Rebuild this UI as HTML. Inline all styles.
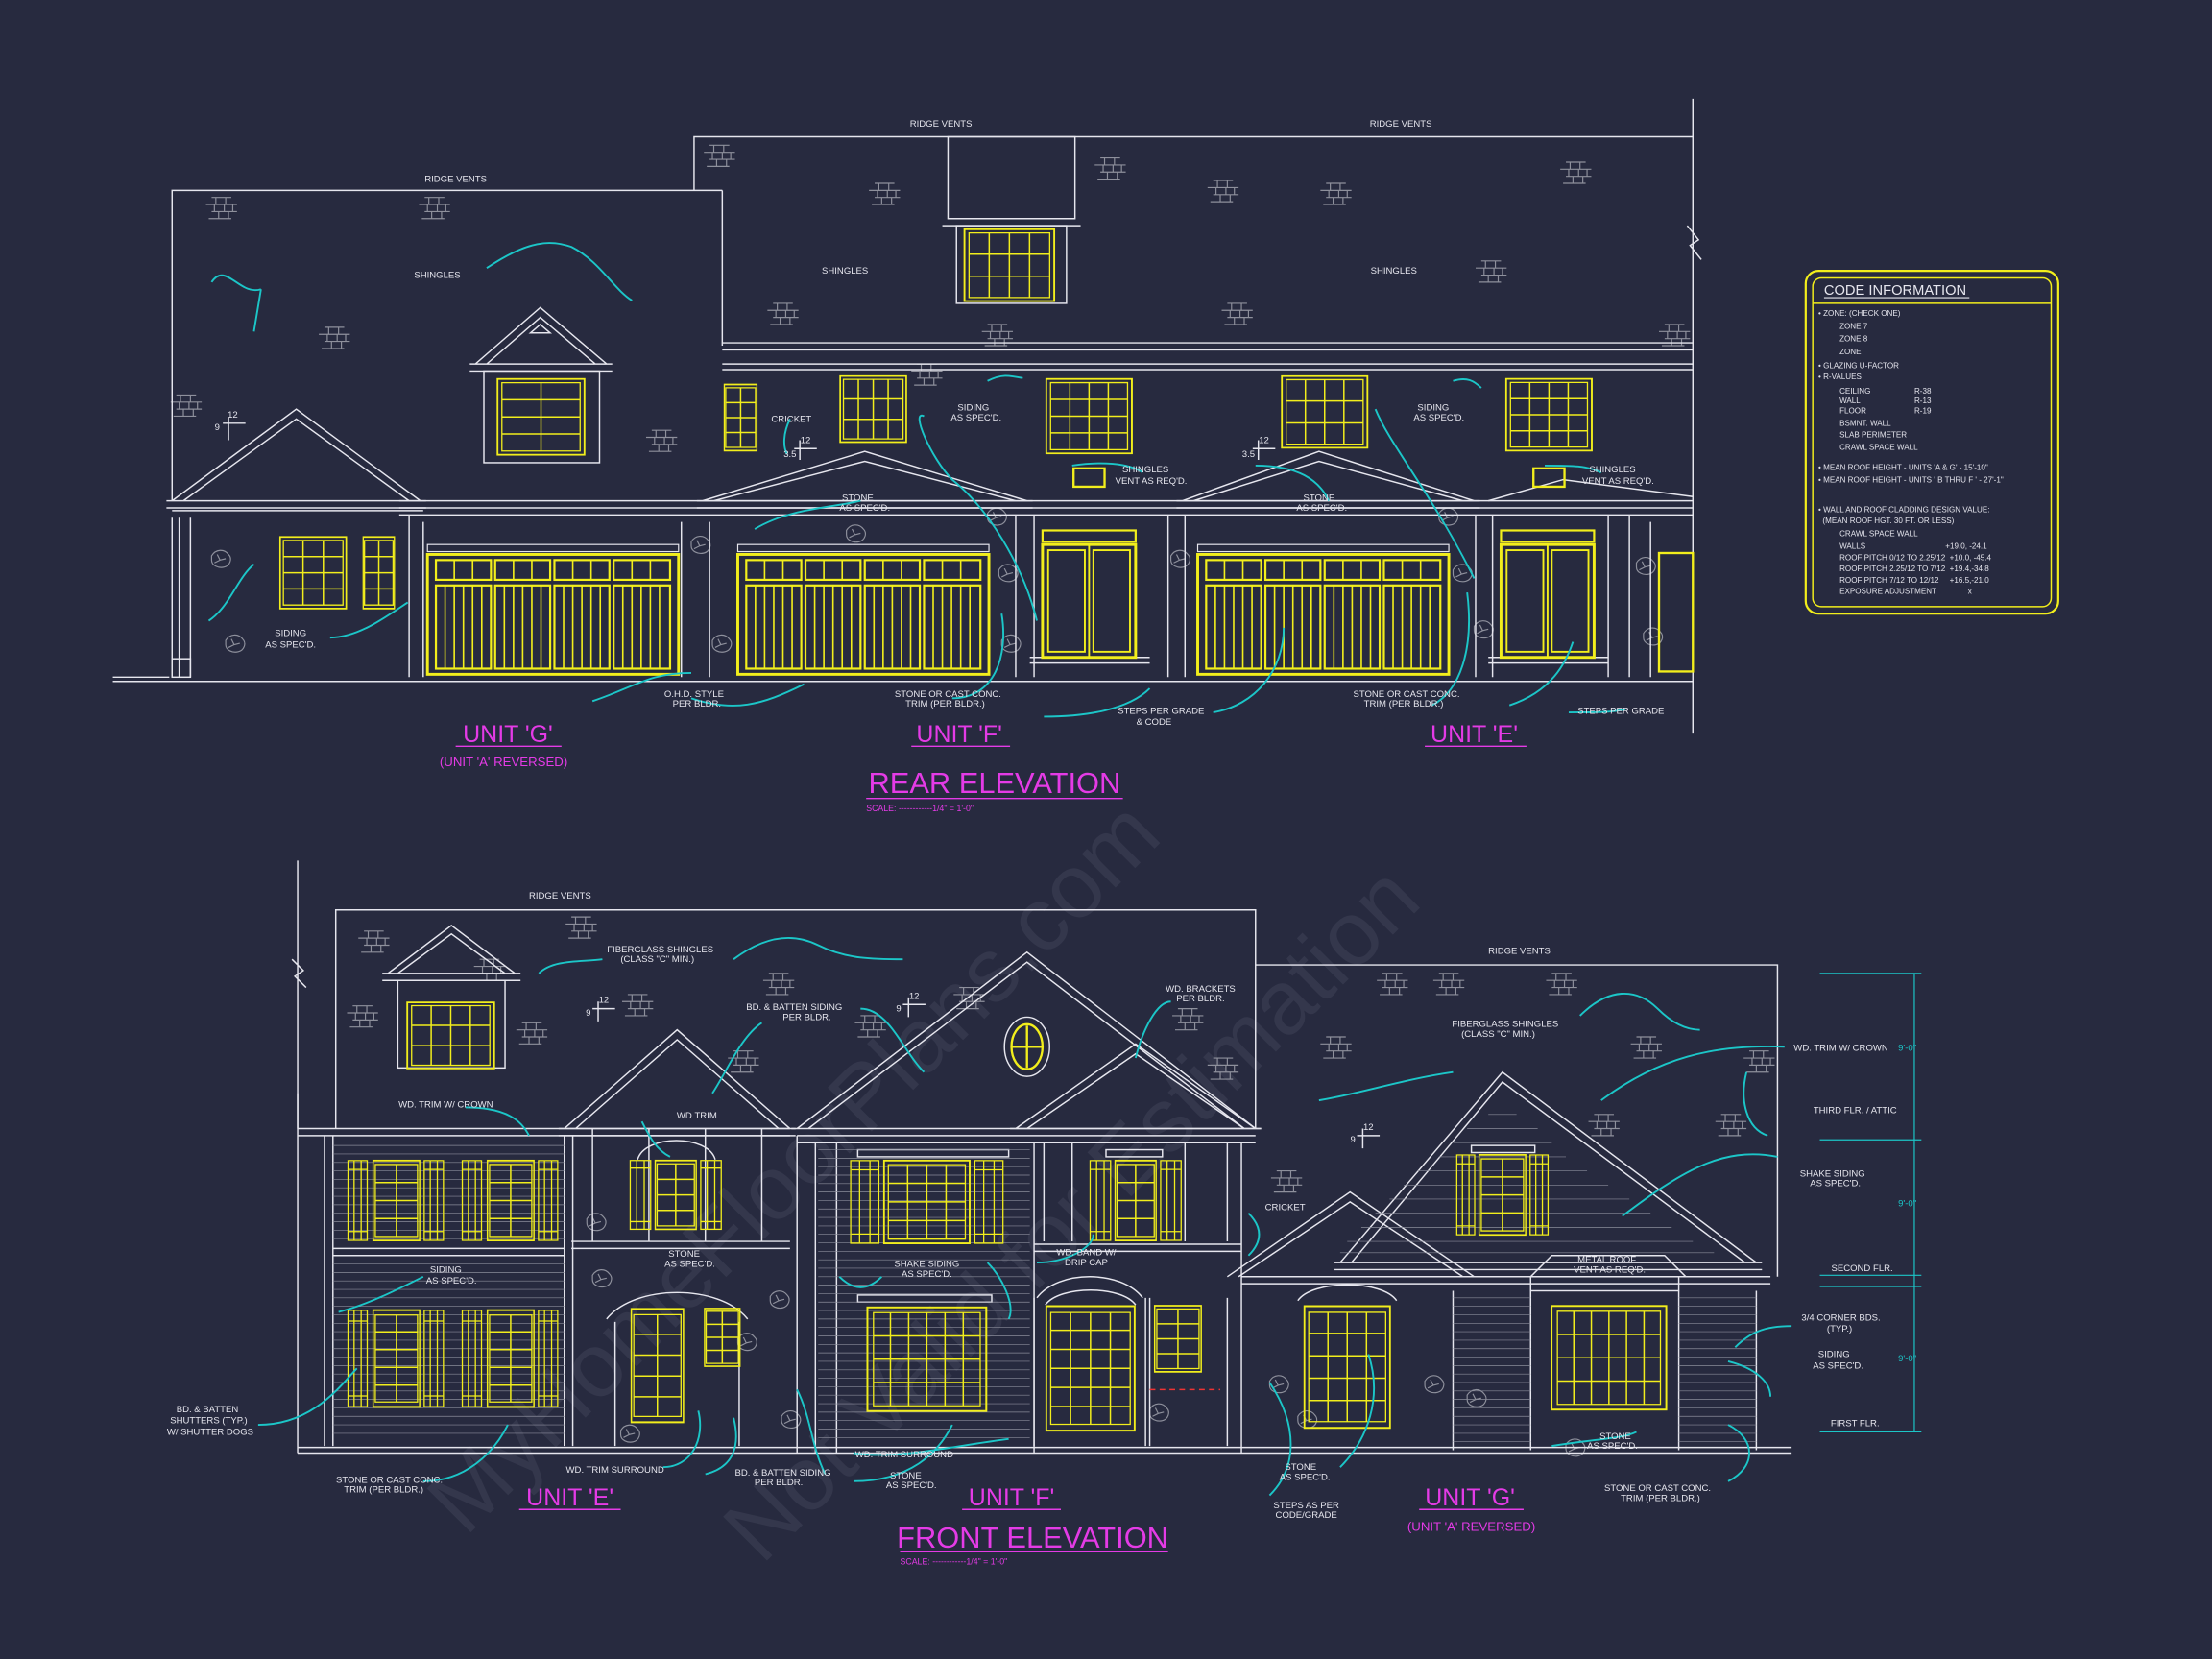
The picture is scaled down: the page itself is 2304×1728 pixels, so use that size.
<!DOCTYPE html>
<html><head><meta charset="utf-8">
<style>
html,body{margin:0;padding:0;background:#272a3f;}
svg{display:block}
text{font-family:"Liberation Sans",sans-serif;}
.t{font-size:6.5px;fill:#e6e6ee;text-anchor:middle}
.s{font-size:5.5px;fill:#e6e6ee}
.m{fill:#e43be6;text-anchor:middle}
.y{fill:none;stroke:#f2ee1c;stroke-width:1.6}
.c{fill:none;stroke:#1cc6c8;stroke-width:1.3}
.ns{vector-effect:non-scaling-stroke}
</style></head>
<body>
<svg width="2304" height="1728" viewBox="0 0 1568 1176" xmlns="http://www.w3.org/2000/svg">
<rect width="1568" height="1176" fill="#272a3f"/>
<defs>
<g id="brick" fill="none" stroke="#8e909c" stroke-width="0.8"><path d="M0,0h14M-4,5h22M0,10h18M-2,15h16M3,0v5M10,0v5M2,5v5M9,5v5M15,5v5M5,10v5M12,10v5"/></g>
<g id="stone" fill="none" stroke="#8e909c" stroke-width="0.8"><path d="M0,4c3,-5 9,-5 12,-1c3,3 1,8 -3,9c-4,1 -9,-1 -9,-5zM4,3l2,4l4,-1M2,9l4,-2"/></g>
<symbol id="w2x4" viewBox="0 0 100 100" preserveAspectRatio="none"><g fill="none" stroke="#f2ee1c" vector-effect="non-scaling-stroke"><rect x="1" y="1" width="98" height="98" stroke-width="2" vector-effect="non-scaling-stroke"/><rect x="6" y="6" width="88" height="88" stroke-width="1.3" vector-effect="non-scaling-stroke"/><path stroke-width="1.5" vector-effect="non-scaling-stroke" d="M50,6V94M6,28H94M6,50H94M6,72H94"/></g></symbol>
<symbol id="w2x5" viewBox="0 0 100 100" preserveAspectRatio="none"><g fill="none" stroke="#f2ee1c"><rect x="1" y="1" width="98" height="98" stroke-width="2" vector-effect="non-scaling-stroke"/><rect x="6" y="6" width="88" height="88" stroke-width="1.3" vector-effect="non-scaling-stroke"/><path stroke-width="1.5" vector-effect="non-scaling-stroke" d="M50,6V94M6,23H94M6,41H94M6,59H94M6,77H94"/></g></symbol>
<symbol id="w3x4" viewBox="0 0 100 100" preserveAspectRatio="none"><g fill="none" stroke="#f2ee1c"><rect x="1" y="1" width="98" height="98" stroke-width="2" vector-effect="non-scaling-stroke"/><rect x="6" y="6" width="88" height="88" stroke-width="1.3" vector-effect="non-scaling-stroke"/><path stroke-width="1.5" vector-effect="non-scaling-stroke" d="M35,6V94M65,6V94M6,28H94M6,50H94M6,72H94"/></g></symbol>
<symbol id="w4x3" viewBox="0 0 100 100" preserveAspectRatio="none"><g fill="none" stroke="#f2ee1c"><rect x="1" y="1" width="98" height="98" stroke-width="2" vector-effect="non-scaling-stroke"/><rect x="6" y="6" width="88" height="88" stroke-width="1.3" vector-effect="non-scaling-stroke"/><path stroke-width="1.5" vector-effect="non-scaling-stroke" d="M28,6V94M50,6V94M72,6V94M6,35H94M6,65H94"/></g></symbol>
<symbol id="w4x4" viewBox="0 0 100 100" preserveAspectRatio="none"><g fill="none" stroke="#f2ee1c"><rect x="1" y="1" width="98" height="98" stroke-width="2" vector-effect="non-scaling-stroke"/><rect x="6" y="6" width="88" height="88" stroke-width="1.3" vector-effect="non-scaling-stroke"/><path stroke-width="1.5" vector-effect="non-scaling-stroke" d="M28,6V94M50,6V94M72,6V94M6,28H94M6,50H94M6,72H94"/></g></symbol>
<symbol id="w4x5" viewBox="0 0 100 100" preserveAspectRatio="none"><g fill="none" stroke="#f2ee1c"><rect x="1" y="1" width="98" height="98" stroke-width="2" vector-effect="non-scaling-stroke"/><rect x="6" y="6" width="88" height="88" stroke-width="1.3" vector-effect="non-scaling-stroke"/><path stroke-width="1.5" vector-effect="non-scaling-stroke" d="M28,6V94M50,6V94M72,6V94M6,23H94M6,41H94M6,59H94M6,77H94"/></g></symbol>
<symbol id="w4x6" viewBox="0 0 100 100" preserveAspectRatio="none"><g fill="none" stroke="#f2ee1c"><rect x="1" y="1" width="98" height="98" stroke-width="2" vector-effect="non-scaling-stroke"/><rect x="6" y="6" width="88" height="88" stroke-width="1.3" vector-effect="non-scaling-stroke"/><path stroke-width="1.5" vector-effect="non-scaling-stroke" d="M28,6V94M50,6V94M72,6V94M6,20H94M6,35H94M6,50H94M6,65H94M6,80H94"/></g></symbol>
<symbol id="w6x4" viewBox="0 0 100 100" preserveAspectRatio="none"><g fill="none" stroke="#f2ee1c"><rect x="1" y="1" width="98" height="98" stroke-width="2" vector-effect="non-scaling-stroke"/><rect x="6" y="6" width="88" height="88" stroke-width="1.3" vector-effect="non-scaling-stroke"/><path stroke-width="1.5" vector-effect="non-scaling-stroke" d="M20,6V94M35,6V94M50,6V94M65,6V94M80,6V94M6,28H94M6,50H94M6,72H94"/></g></symbol>
<symbol id="sh" viewBox="0 0 15 58" preserveAspectRatio="none"><g fill="none" stroke="#f2ee1c" stroke-width="1.3" vector-effect="non-scaling-stroke"><rect x="0.7" y="0.7" width="13.6" height="56.6" vector-effect="non-scaling-stroke"/><path vector-effect="non-scaling-stroke" d="M5,1V57M10,1V57M1,7H14M1,51H14"/></g></symbol>
<g id="gar" fill="none" stroke="#f2ee1c">
<rect x="0" y="0" width="178" height="85" stroke-width="2"/>
<rect x="0" y="-7" width="178" height="5" stroke="#e6e6ee" stroke-width="0.8"/>
<g stroke-width="1.5"><rect x="6" y="4" width="39" height="14"/><rect x="48" y="4" width="39" height="14"/><rect x="90" y="4" width="39" height="14"/><rect x="132" y="4" width="40" height="14"/>
<rect x="6" y="22" width="39" height="59"/><rect x="48" y="22" width="39" height="59"/><rect x="90" y="22" width="39" height="59"/><rect x="132" y="22" width="40" height="59"/></g>
<path stroke-width="1.1" d="M19,4v14M32,4v14M61,4v14M74,4v14M103,4v14M116,4v14M145,4v14M158,4v14M12.5,22v59M19,22v59M25.5,22v59M32,22v59M38.5,22v59M54.5,22v59M61,22v59M67.5,22v59M74,22v59M80.5,22v59M96.5,22v59M103,22v59M109.5,22v59M116,22v59M122.5,22v59M138.5,22v59M145,22v59M151.5,22v59M158,22v59M164.5,22v59"/>
</g>
<g id="fd" fill="none" stroke="#f2ee1c">
<rect x="0" y="0" width="66" height="8" stroke-width="1.5"/><rect x="0" y="10" width="66" height="80" stroke-width="2"/>
<rect x="4" y="14" width="26" height="72" stroke-width="1.3"/><rect x="36" y="14" width="26" height="72" stroke-width="1.3"/><path d="M33,10v80" stroke-width="1.3"/>
</g>
</defs>

<!-- watermark -->
<g fill="#34374c" font-size="64" font-family="Liberation Serif,serif">
<text transform="translate(330,1090) rotate(-45)">MyHomeFloorPlans.com</text>
<text transform="translate(540,1110) rotate(-45)">Not Valid for Estimation</text>
</g>

<!-- bricks -->
<g>
<use href="#brick" x="301" y="140"/><use href="#brick" x="230" y="232"/><use href="#brick" x="462" y="305"/><use href="#brick" x="503" y="103"/><use href="#brick" x="620" y="130"/><use href="#brick" x="780" y="112"/><use href="#brick" x="548" y="215"/><use href="#brick" x="700" y="230"/><use href="#brick" x="860" y="128"/><use href="#brick" x="940" y="130"/><use href="#brick" x="1050" y="185"/><use href="#brick" x="1110" y="115"/><use href="#brick" x="870" y="215"/><use href="#brick" x="650" y="258"/><use href="#brick" x="1180" y="230"/><use href="#brick" x="125" y="280"/><use href="#brick" x="150" y="140"/>
<use href="#brick" x="258" y="660"/><use href="#brick" x="340" y="680"/><use href="#brick" x="405" y="650"/><use href="#brick" x="445" y="705"/><use href="#brick" x="250" y="713"/><use href="#brick" x="370" y="725"/><use href="#brick" x="520" y="745"/><use href="#brick" x="610" y="720"/><use href="#brick" x="680" y="700"/><use href="#brick" x="545" y="690"/><use href="#brick" x="835" y="715"/><use href="#brick" x="860" y="750"/><use href="#brick" x="940" y="735"/><use href="#brick" x="980" y="690"/><use href="#brick" x="1020" y="690"/><use href="#brick" x="1100" y="690"/><use href="#brick" x="1160" y="735"/><use href="#brick" x="1220" y="790"/><use href="#brick" x="1240" y="745"/><use href="#brick" x="905" y="830"/><use href="#brick" x="1130" y="790"/>
</g>
<g>
<use href="#stone" x="150" y="390"/><use href="#stone" x="160" y="450"/><use href="#stone" x="490" y="380"/><use href="#stone" x="505" y="450"/><use href="#stone" x="600" y="372"/><use href="#stone" x="700" y="360"/><use href="#stone" x="708" y="400"/><use href="#stone" x="710" y="450"/><use href="#stone" x="830" y="390"/><use href="#stone" x="1020" y="360"/><use href="#stone" x="1030" y="400"/><use href="#stone" x="1045" y="440"/><use href="#stone" x="1160" y="395"/><use href="#stone" x="1165" y="445"/>
<use href="#stone" x="416" y="860"/><use href="#stone" x="546" y="915"/><use href="#stone" x="554" y="1000"/><use href="#stone" x="523" y="945"/><use href="#stone" x="420" y="900"/><use href="#stone" x="440" y="1010"/><use href="#stone" x="815" y="995"/><use href="#stone" x="900" y="975"/><use href="#stone" x="1010" y="975"/><use href="#stone" x="1040" y="985"/><use href="#stone" x="1110" y="1020"/><use href="#stone" x="920" y="1000"/>
</g>

<!-- ============ REAR ============ -->
<g fill="none" stroke="#e6e6ee" stroke-width="1">
<path d="M122,355V135H512M492,135V97H1200M1200,70V520M1196,160l8,10l-6,4l8,10"/>
<path d="M512,135V245M512,243H1200M512,248H1200M512,258H1200M512,262H1200M80,483H1200M80,480H120"/>
<!-- left gable -->
<path d="M122,355L210,290L298,355M130,355L210,297L290,355M118,355H302M118,360H302"/>
<path d="M122,362H300M122,367V480M135,367V480M127,367V480"/><rect x="122" y="467" width="13" height="13"/>
<!-- dormer -->
<path d="M337,258L383,218L430,258M345,258L383,225L422,258M333,258H434M333,263H434M376,236l7,-6l7,6z"/>
<rect x="343" y="263" width="82" height="65"/>
<rect x="672" y="97" width="90" height="58"/><path d="M672,155H762M668,160H766"/><rect x="678" y="160" width="78" height="55"/>
<path d="M283,355H1200M283,360H1200M283,365H1200"/>
<path d="M290,365V480M300,370V480M483,370V480M503,370V480M720,365V480M733,365V480M828,365V480M840,365V480M1046,365V480M1058,365V480M1140,365V480M1155,365V480M1170,370V480"/>
<path d="M498,355L613,320L728,355M506,355L613,327L720,355M494,355H732M494,360H732"/>
<path d="M838,355L935,320L1045,355M846,355L935,327L1037,355M834,355H1049M834,360H1049"/>
<path d="M1055,355L1108,340L1200,352"/>
<path d="M730,466H815M730,470H815M1055,466H1140M1055,470H1140"/>
<path d="M158,300h16M162,296v16M563,318h16M567,312v14M888,318h16M892,312v14"/>
</g>
<use href="#w2x4" x="352" y="268" width="63" height="55"/>
<use href="#w4x3" x="683" y="162" width="65" height="52"/>
<use href="#w2x4" x="513" y="272" width="24" height="48"/>
<use href="#w4x3" x="595" y="266" width="48" height="48"/>
<use href="#w4x4" x="741" y="268" width="62" height="54"/>
<use href="#w4x3" x="908" y="266" width="62" height="52"/>
<use href="#w4x4" x="1067" y="268" width="62" height="52"/>
<rect class="y" x="761" y="332" width="22" height="13"/><rect class="y" x="1087" y="332" width="22" height="13"/>
<use href="#w3x4" x="198" y="380" width="48" height="52"/>
<use href="#w2x4" x="257" y="380" width="23" height="52"/>
<use href="#gar" x="303" y="393"/><use href="#gar" x="523" y="393"/><use href="#gar" x="849" y="393"/>
<use href="#fd" x="739" y="376"/><use href="#fd" x="1064" y="376"/>
<rect class="y" x="1176" y="392" width="24" height="84"/>

<g class="c">
<path d="M150,200c10,-15 20,10 35,5M185,205l-5,30M345,190c30,-20 45,-20 60,-15c20,10 30,30 43,38"/>
<path d="M148,440c15,-10 20,-30 32,-40M234,452c20,0 40,-15 55,-25M420,497c30,-10 40,-20 70,-20M490,495c30,10 50,5 80,-10"/>
<path d="M700,270c10,-5 15,-4 25,-2M655,295c-10,-5 5,30 20,45c25,20 50,60 60,100M560,297c-5,10 -5,20 -2,25M610,355c-20,5 -50,5 -75,20"/>
<path d="M760,330c20,-3 40,-2 50,5M1095,330c20,0 30,0 40,5M1030,270c10,-3 15,0 20,5M975,290c10,25 40,60 70,120M890,330c30,0 45,10 52,25"/>
<path d="M675,495c30,0 40,-30 35,-60M740,508c30,0 60,-5 75,-20M860,505c30,-5 50,-30 50,-60M1070,500c30,-10 40,-30 45,-45M1015,500c20,-10 30,-40 25,-80M1112,505c20,0 30,0 40,-2"/>
</g>

<g class="t">
<text x="154" y="305">9</text><text x="165" y="296">12</text><text x="560" y="324">3.5</text><text x="571" y="314">12</text><text x="885" y="324">3.5</text><text x="896" y="314">12</text>
<text x="323" y="129">RIDGE VENTS</text><text x="667" y="90">RIDGE VENTS</text><text x="993" y="90">RIDGE VENTS</text>
<text x="310" y="197">SHINGLES</text><text x="599" y="194">SHINGLES</text><text x="988" y="194">SHINGLES</text>
<text x="561" y="299">CRICKET</text><text x="690" y="291">SIDING</text><text x="692" y="298">AS SPEC'D.</text>
<text x="1016" y="291">SIDING</text><text x="1020" y="298">AS SPEC'D.</text>
<text x="608" y="355">STONE</text><text x="613" y="362">AS SPEC'D.</text><text x="935" y="355">STONE</text><text x="937" y="362">AS SPEC'D.</text>
<text x="812" y="335">SHINGLES</text><text x="816" y="343">VENT AS REQ'D.</text><text x="1143" y="335">SHINGLES</text><text x="1147" y="343">VENT AS REQ'D.</text>
<text x="206" y="451">SIDING</text><text x="206" y="459">AS SPEC'D.</text><text x="492" y="494">O.H.D. STYLE</text><text x="494" y="501">PER BLDR.</text>
<text x="672" y="494">STONE OR CAST CONC.</text><text x="670" y="501">TRIM (PER BLDR.)</text><text x="823" y="506">STEPS PER GRADE</text><text x="818" y="514">&amp; CODE</text>
<text x="997" y="494">STONE OR CAST CONC.</text><text x="995" y="501">TRIM (PER BLDR.)</text><text x="1149" y="506">STEPS PER GRADE</text>
</g>

<g class="m">
<text x="360" y="526" font-size="17">UNIT 'G'</text><text x="357" y="543" font-size="9">(UNIT 'A' REVERSED)</text>
<text x="680" y="526" font-size="17">UNIT 'F'</text><text x="1045" y="526" font-size="17">UNIT 'E'</text>
<text x="705" y="562" font-size="21">REAR ELEVATION</text>
<text x="614" y="575" font-size="6" text-anchor="start">SCALE: ------------1/4" = 1'-0"</text>
<text x="732" y="1097" font-size="21">FRONT ELEVATION</text>
<text x="638" y="1109" font-size="6" text-anchor="start">SCALE: ------------1/4" = 1'-0"</text>
<text x="404" y="1067" font-size="17">UNIT 'E'</text><text x="717" y="1067" font-size="17">UNIT 'F'</text><text x="1042" y="1067" font-size="17">UNIT 'G'</text>
<text x="1043" y="1085" font-size="9">(UNIT 'A' REVERSED)</text>
</g>
<path fill="none" stroke="#e43be6" d="M323,529h75M646,529h70M1010,529h72M614,566h182M638,1100h190M368,1070h72M682,1070h70M1006,1070h74"/>

<!-- code box -->
<rect x="1280" y="192" width="179" height="243" rx="9" fill="none" stroke="#f2ee1c" stroke-width="1.5"/>
<rect x="1285" y="197" width="169" height="233" rx="6" fill="none" stroke="#f2ee1c"/>
<path d="M1285,215H1454" stroke="#f2ee1c"/>
<text x="1293" y="209" font-size="10" fill="#e6e6ee">CODE INFORMATION</text><path d="M1293,211h103" stroke="#e6e6ee" stroke-width="0.8"/>
<g class="s">
<text x="1289" y="224">• ZONE: (CHECK ONE)</text><text x="1304" y="233">ZONE 7</text><text x="1304" y="242">ZONE 8</text><text x="1304" y="251">ZONE</text>
<text x="1289" y="261">• GLAZING U-FACTOR</text><text x="1289" y="269">• R-VALUES</text>
<text x="1304" y="279">CEILING</text><text x="1304" y="286">WALL</text><text x="1304" y="293">FLOOR</text><text x="1304" y="302">BSMNT. WALL</text><text x="1304" y="310">SLAB PERIMETER</text><text x="1304" y="319">CRAWL SPACE WALL</text>
<text x="1357" y="279">R-38</text><text x="1357" y="286">R-13</text><text x="1357" y="293">R-19</text>
<text x="1289" y="333">• MEAN ROOF HEIGHT - UNITS 'A &amp; G'  - 15'-10"</text>
<text x="1289" y="342">• MEAN ROOF HEIGHT - UNITS ' B THRU F '  - 27'-1"</text>
<text x="1289" y="363">• WALL AND ROOF CLADDING DESIGN VALUE:</text><text x="1292" y="371">(MEAN ROOF HGT. 30 FT. OR LESS)</text>
<text x="1304" y="380">CRAWL SPACE WALL</text><text x="1304" y="389">WALLS</text><text x="1304" y="397">ROOF PITCH 0/12 TO 2.25/12</text><text x="1304" y="405">ROOF PITCH 2.25/12 TO 7/12</text><text x="1304" y="413">ROOF PITCH 7/12 TO 12/12</text><text x="1304" y="421">EXPOSURE ADJUSTMENT</text>
<text x="1379" y="389">+19.0, -24.1</text><text x="1382" y="397">+10.0, -45.4</text><text x="1382" y="405">+19.4,-34.8</text><text x="1382" y="413">+16.5,-21.0</text><text x="1395" y="421">x</text>
</g>

<!-- ============ FRONT ============ -->
<g fill="none" stroke="#e6e6ee" stroke-width="1">
<path d="M211,610V1030M207,680l8,8l-6,4l8,8M238,800V645H890V800M890,684H1260V905M211,1030H1270M211,1026H1270"/>
<path d="M275,690L320,656L365,690M282,690L320,662L358,690M271,690H369M271,695H369"/><rect x="282" y="695" width="76" height="62"/>
<path d="M211,775V800M211,800H560M211,805H560M230,805V1025M236,805V1025M400,805V1025M406,805V1025M236,885H400M236,890H400"/>
<path d="M400,800L480,730L560,800M408,800L480,737L552,800M396,800H564M396,805H564M460,800V880M500,800V880M420,800V880M540,800V880M405,880H560M405,885H560"/>
<path d="M565,800L728,675L890,800M573,800L728,682L882,800M561,800H894"/>
<path d="M720,800L805,740L890,800M728,800L805,747L882,800M716,800H894"/>
<path d="M565,805H890M565,810H890M565,805V1030M578,810V1030M593,810V1030M733,810V1030"/>
<path d="M740,810V880M760,810V880M840,810V880M870,810V880M733,882H880M733,887H880M880,810V1030"/>
<path d="M950,895L1065,760L1245,895M958,895L1065,767L1237,895M946,895H1249M946,900H1249"/>
<path d="M870,905L957,845L1045,905M878,905L957,852L1037,905"/>
<path d="M880,910H1255M880,905H1255M1030,915V1028M1085,915V1028M1190,915V1028M1245,915V1028"/>
<rect x="1085" y="905" width="105" height="10"/><path d="M1100,890H1180L1195,905H1085z"/>
<path d="M452,822c5,-18 50,-18 55,0M430,935c20,-25 80,-25 100,0M436,937V1025M524,937V1025M920,922c10,-15 60,-15 70,0"/>
<path d="M741,925c10,-14 54,-14 64,0M735,920c15,-20 60,-20 75,0M733,920V1025M812,920V1025M815,920V1025M870,920V1025"/>
<rect x="608" y="815" width="107" height="5"/><rect x="784" y="815" width="40" height="5"/><rect x="608" y="918" width="95" height="5"/><rect x="1043" y="812" width="45" height="5"/>
<ellipse cx="728" cy="742" rx="16" ry="21"/>
<path d="M420,715h16M424,710v14M962,805h16M966,800v14M640,712h16M644,707v14"/>
</g>
<g fill="none" stroke="#8a8c9a" stroke-width="0.45">
<path d="M236,812H400M236,818H400M236,824H400M236,830H400M236,836H400M236,842H400M236,848H400M236,854H400M236,860H400M236,866H400M236,872H400M236,878H400M236,896H400M236,902H400M236,908H400M236,914H400M236,920H400M236,926H400M236,932H400M236,938H400M236,944H400M236,950H400M236,956H400M236,962H400M236,968H400M236,974H400M236,980H400M236,986H400M236,992H400M236,998H400M236,1004H400M236,1010H400M236,1016H400"/>
<path d="M580,815H730M580,821H730M580,827H730M580,833H730M580,839H730M580,845H730M580,851H730M580,857H730M580,863H730M580,869H730M580,875H730M580,881H730M580,887H730M580,893H730M580,899H730M580,905H730M580,911H730M580,917H730M580,923H730M580,929H730M580,935H730M580,941H730M580,947H730M580,953H730M580,959H730M580,965H730M580,971H730M580,977H730M580,983H730M580,989H730M580,995H730M580,1001H730M580,1007H730M580,1013H730M580,1019H730"/>
<path d="M1030,920H1085M1030,926H1085M1030,932H1085M1030,938H1085M1030,944H1085M1030,950H1085M1030,956H1085M1030,962H1085M1030,968H1085M1030,974H1085M1030,980H1085M1030,986H1085M1030,992H1085M1030,998H1085M1030,1004H1085M1030,1010H1085M1030,1016H1085M1030,1022H1085"/>
<path d="M1190,920H1245M1190,926H1245M1190,932H1245M1190,938H1245M1190,944H1245M1190,950H1245M1190,956H1245M1190,962H1245M1190,968H1245M1190,974H1245M1190,980H1245M1190,986H1245M1190,992H1245M1190,998H1245M1190,1004H1245M1190,1010H1245M1190,1016H1245M1190,1022H1245"/>
<path d="M1055,790H1075M1040,800H1090M1030,810H1100M1020,820H1110M1005,830H1125M995,840H1140M985,850H1155M975,860H1170M965,870H1185M955,880H1200M950,888H1215"/>
</g>
<ellipse cx="728" cy="742" rx="11" ry="16" class="y" stroke-width="2"/><path class="y" d="M728,727v30M717,742h22"/>
<use href="#w4x3" x="288" y="710" width="63" height="48"/>
<use href="#sh" x="246" y="822" width="15" height="58"/><use href="#w2x4" x="264" y="822" width="34" height="58"/><use href="#sh" x="300" y="822" width="15" height="58"/>
<use href="#sh" x="327" y="822" width="15" height="58"/><use href="#w2x4" x="345" y="822" width="34" height="58"/><use href="#sh" x="381" y="822" width="15" height="58"/>
<use href="#sh" x="246" y="928" width="15" height="70"/><use href="#w2x5" x="264" y="928" width="34" height="70"/><use href="#sh" x="300" y="928" width="15" height="70"/>
<use href="#sh" x="327" y="928" width="15" height="70"/><use href="#w2x5" x="345" y="928" width="34" height="70"/><use href="#sh" x="381" y="928" width="15" height="70"/>
<use href="#sh" x="446" y="822" width="16" height="50"/><use href="#w2x4" x="464" y="822" width="30" height="50"/><use href="#sh" x="496" y="822" width="16" height="50"/>
<use href="#sh" x="602" y="822" width="22" height="60"/><use href="#w4x4" x="626" y="822" width="62" height="60"/><use href="#sh" x="690" y="822" width="22" height="60"/>
<use href="#sh" x="772" y="822" width="16" height="58"/><use href="#w2x4" x="790" y="822" width="30" height="58"/><use href="#sh" x="822" y="822" width="16" height="58"/>
<use href="#w6x4" x="614" y="926" width="86" height="75"/>
<use href="#sh" x="1032" y="818" width="14" height="58"/><use href="#w2x4" x="1048" y="818" width="34" height="58"/><use href="#sh" x="1084" y="818" width="14" height="58"/>
<use href="#w4x5" x="924" y="925" width="62" height="88"/>
<use href="#w6x4" x="1099" y="925" width="83" height="75"/>
<use href="#w2x5" x="447" y="927" width="38" height="82"/>
<use href="#w2x4" x="499" y="927" width="26" height="42"/>
<use href="#w4x6" x="741" y="925" width="64" height="90"/>
<use href="#w2x4" x="818" y="925" width="34" height="48"/>
<path d="M815,985H865" stroke="#e33" stroke-dasharray="4,3"/>

<!-- dimension -->
<g fill="none" stroke="#1cc6c8" stroke-width="0.8"><path d="M1357,690V1015M1290,690H1362M1290,808H1362M1290,904H1362M1290,912H1362M1290,1015H1362"/></g>
<g class="t" style="fill:#1cc6c8"><text x="1352" y="745">9'-0"</text><text x="1352" y="855">9'-0"</text><text x="1352" y="965">9'-0"</text></g>

<g class="c">
<path d="M382,690c10,-10 30,-8 45,-10M520,680c20,-15 40,-20 60,-10c20,10 40,10 60,10M1120,720c20,-20 40,-20 55,-5c10,10 20,15 30,15"/>
<path d="M935,780c30,-5 60,-15 95,-20M1135,780c40,-30 80,-40 130,-38M1150,862c40,-30 70,-50 110,-42M1238,760c-5,20 0,40 15,45"/>
<path d="M505,775c10,-15 20,-40 35,-50M610,715c20,0 30,30 45,45M830,710c-10,0 -20,20 -25,40M455,795c5,10 10,20 20,25"/>
<path d="M330,785c30,0 40,10 45,20M300,905c-20,10 -40,20 -60,25M183,1010c40,0 60,-30 70,-40M300,1050c30,0 50,-20 60,-40"/>
<path d="M470,1040c20,0 30,-20 25,-40M500,1045c20,-5 25,-20 20,-40M585,1045c-10,-20 -10,-40 -20,-60M605,1030c30,5 70,-5 110,-10M605,1050c40,0 60,-20 70,-40"/>
<path d="M885,860c10,10 10,20 0,30M735,895c20,0 40,-10 40,-20M595,905c10,10 20,10 30,0M700,895c10,10 20,30 15,40"/>
<path d="M900,1060c20,-20 20,-50 0,-80M950,1040c20,-20 30,-50 20,-80M1100,1025c30,-5 50,-5 60,-10M1225,1050c20,-10 20,-30 0,-40M1225,965c20,5 30,15 30,25M1270,940c-20,0 -30,5 -40,15"/>
</g>

<g class="t">
<text x="397" y="637">RIDGE VENTS</text><text x="1077" y="676">RIDGE VENTS</text>
<text x="468" y="675">FIBERGLASS SHINGLES</text><text x="466" y="682">(CLASS "C" MIN.)</text>
<text x="1067" y="728">FIBERGLASS SHINGLES</text><text x="1062" y="735">(CLASS "C" MIN.)</text>
<text x="563" y="716">BD. &amp; BATTEN SIDING</text><text x="572" y="723">PER BLDR.</text><text x="851" y="703">WD. BRACKETS</text><text x="851" y="710">PER BLDR.</text>
<text x="316" y="785">WD. TRIM W/ CROWN</text><text x="494" y="793">WD.TRIM</text><text x="316" y="902">SIDING</text><text x="320" y="910">AS SPEC'D.</text>
<text x="485" y="891">STONE</text><text x="489" y="898">AS SPEC'D.</text><text x="657" y="898">SHAKE SIDING</text><text x="657" y="905">AS SPEC'D.</text>
<text x="770" y="890">WD. BAND W/</text><text x="770" y="897">DRIP CAP</text><text x="911" y="858">CRICKET</text><text x="1139" y="895">METAL ROOF</text><text x="1141" y="902">VENT AS REQ'D.</text>
<text x="147" y="1001">BD. &amp; BATTEN</text><text x="148" y="1009">SHUTTERS (TYP.)</text><text x="149" y="1017">W/ SHUTTER DOGS</text>
<text x="276" y="1051">STONE OR CAST CONC.</text><text x="272" y="1058">TRIM (PER BLDR.)</text><text x="436" y="1044">WD. TRIM SURROUND</text>
<text x="555" y="1046">BD. &amp; BATTEN SIDING</text><text x="552" y="1053">PER BLDR.</text><text x="642" y="1048">STONE</text><text x="646" y="1055">AS SPEC'D.</text>
<text x="641" y="1033">WD. TRIM SURROUND</text><text x="922" y="1042">STONE</text><text x="925" y="1049">AS SPEC'D.</text><text x="926" y="1069">STEPS AS PER</text><text x="926" y="1076">CODE/GRADE</text>
<text x="1145" y="1020">STONE</text><text x="1143" y="1027">AS SPEC'D.</text><text x="1175" y="1057">STONE OR CAST CONC.</text><text x="1177" y="1064">TRIM (PER BLDR.)</text>
<text x="1305" y="745">WD. TRIM W/ CROWN</text><text x="1315" y="789">THIRD FLR. / ATTIC</text>
<text x="1299" y="834">SHAKE SIDING</text><text x="1301" y="841">AS SPEC'D.</text>
<text x="1320" y="901">SECOND FLR.</text><text x="1305" y="936">3/4 CORNER BDS.</text><text x="1304" y="944">(TYP.)</text>
<text x="1300" y="962">SIDING</text><text x="1303" y="970">AS SPEC'D.</text><text x="1315" y="1011">FIRST FLR.</text>
<text x="417" y="720">9</text><text x="428" y="711">12</text><text x="637" y="717">9</text><text x="648" y="708">12</text><text x="959" y="810">9</text><text x="970" y="801">12</text>
</g>
</svg>
</body></html>
